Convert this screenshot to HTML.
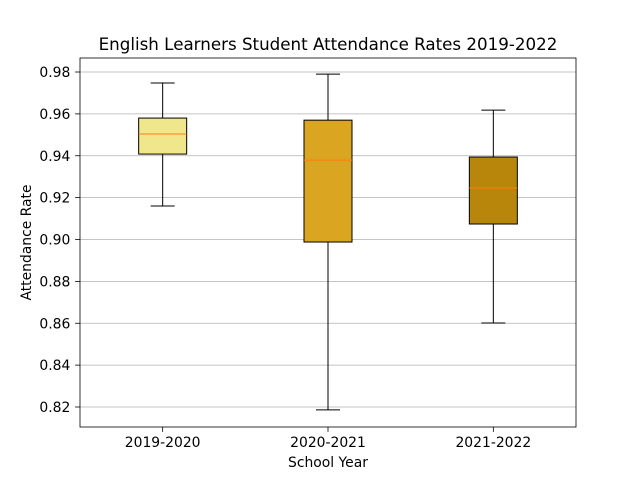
<!DOCTYPE html>
<html><head><meta charset="utf-8"><style>body{margin:0;background:#fff}svg{display:block;font-family:"DejaVu Sans","Liberation Sans",sans-serif}</style></head>
<body>
<svg id="chart" width="640" height="480">
<rect width="640" height="480" fill="#fff"/>
<g id="grid"></g><g id="boxes"></g><g id="axes"></g>
<text x="328" y="50" text-anchor="middle" font-size="16.7">English Learners Student Attendance Rates 2019-2022</text>
<text x="328" y="467" text-anchor="middle" font-size="13.9">School Year</text>
<text x="31" y="242.5" text-anchor="middle" font-size="13.9" transform="rotate(-90 31 242.5)">Attendance Rate</text>
</svg>
<script>
const categories = ["2019-2020","2020-2021","2021-2022"];
const whiskerLow = [0.916,0.8186,0.8601];
const q1 = [0.9408,0.8988,0.9074];
const medians = [0.9504,0.9379,0.9246];
const q3 = [0.958,0.957,0.9394];
const whiskerHigh = [0.97475,0.979,0.9618];
const colors = ["#F0E68C","#DAA520","#B8860B"];
const yTicks = [0.82,0.84,0.86,0.88,0.90,0.92,0.94,0.96,0.98];
const L=80,R=576,T=58,B=427,ymin=0.81045,ymax=0.98669;
const y=v=>B-(v-ymin)/(ymax-ymin)*(B-T);
const x=i=>L+(i+0.5)/categories.length*(R-L);
const NS="http://www.w3.org/2000/svg";
function mk(p,tag,a){const e=document.createElementNS(NS,tag);for(const k in a)e.setAttribute(k,a[k]);p.appendChild(e);return e;}
const grid=document.getElementById('grid'),boxes=document.getElementById('boxes'),axes=document.getElementById('axes');
yTicks.forEach(t=>{
  const g=mk(grid,'line',{x1:L,x2:R,y1:y(t),y2:y(t),stroke:'#b0b0b0','stroke-width':0.8});
  
  
  mk(axes,'line',{x1:L-4.9,x2:L,y1:y(t),y2:y(t),stroke:'#000','stroke-width':0.8});
  const tx=mk(axes,'text',{x:L-9.7,y:y(t)+5,'text-anchor':'end','font-size':13.9});
  tx.textContent=t.toFixed(2);
  
  
});
categories.forEach((c,i)=>{
  const cx=x(i),hw=24,cw=12;
  const g=mk(boxes,'g',{});
  
  
  mk(g,'line',{x1:cx,x2:cx,y1:y(whiskerLow[i]),y2:y(q1[i]),stroke:'#000'});
  mk(g,'line',{x1:cx,x2:cx,y1:y(q3[i]),y2:y(whiskerHigh[i]),stroke:'#000'});
  mk(g,'line',{x1:cx-cw,x2:cx+cw,y1:y(whiskerLow[i]),y2:y(whiskerLow[i]),stroke:'#000'});
  mk(g,'line',{x1:cx-cw,x2:cx+cw,y1:y(whiskerHigh[i]),y2:y(whiskerHigh[i]),stroke:'#000'});
  mk(g,'rect',{x:cx-hw,y:y(q3[i]),width:2*hw,height:y(q1[i])-y(q3[i]),fill:colors[i],stroke:'#000'});
  mk(g,'line',{x1:cx-hw,x2:cx+hw,y1:y(medians[i]),y2:y(medians[i]),stroke:'#ff7f0e'});
  mk(axes,'line',{x1:cx,x2:cx,y1:B,y2:B+4.9,stroke:'#000','stroke-width':0.8});
  const tx=mk(axes,'text',{x:cx,y:B+20,'text-anchor':'middle','font-size':13.9});
  tx.textContent=c;
  
  
});
const fr=mk(axes,'rect',{x:L,y:T,width:R-L,height:B-T,fill:'none',stroke:'#000','stroke-width':0.8});


</script>
</body></html>
